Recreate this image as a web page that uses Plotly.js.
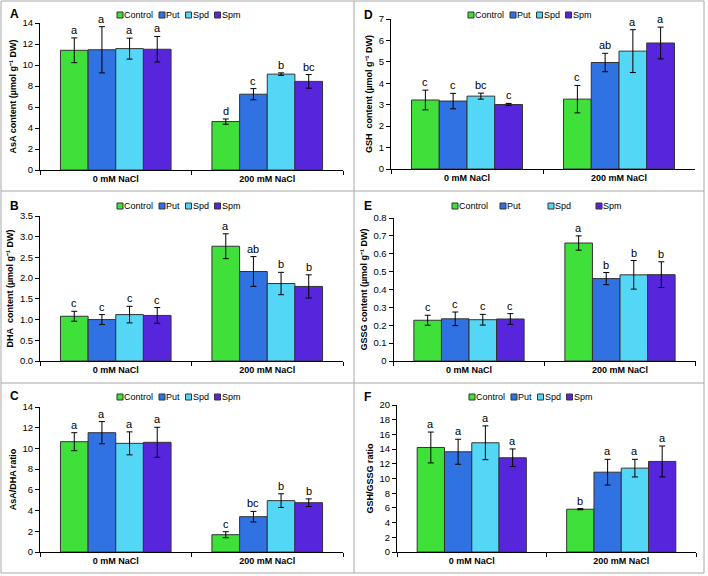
<!DOCTYPE html>
<html><head><meta charset="utf-8">
<script src="https://cdn.plot.ly/plotly-3.0.1.min.js"></script>
<style>body{margin:0;background:#fff}#chart{width:708px;height:576px}</style>
</head><body><div id="chart"></div>
<script>
// ---------- DATA ----------
const categories = ['0 mM NaCl', '200 mM NaCl'];
const treatments = ['Control', 'Put', 'Spd', 'Spm'];
const colors = ['#3fe03a', '#3072e2', '#54d6f7', '#5726dc'];

// rows = treatments (Control, Put, Spd, Spm); columns = categories (0, 200 mM NaCl)
const asaMean = [[11.40, 4.61], [11.45, 7.22], [11.56, 9.13], [11.50, 8.44]];
const asaErr = [[1.18, 0.25], [2.2, 0.53], [1.0, 0.12], [1.22, 0.65]];
const asaLetters = [['a', 'd'], ['a', 'c'], ['a', 'b'], ['a', 'bc']];

const gshMean = [[3.22, 3.26], [3.17, 4.97], [3.40, 5.50], [3.01, 5.88]];
const gshErr = [[0.46, 0.64], [0.36, 0.43], [0.14, 1.0], [0.05, 0.74]];
const gshLetters = [['c', 'c'], ['c', 'ab'], ['bc', 'a'], ['c', 'a']];

const dhaMean = [[1.08, 2.77], [1.00, 2.16], [1.12, 1.87], [1.10, 1.80]];
const dhaErr = [[0.12, 0.30], [0.12, 0.36], [0.20, 0.27], [0.19, 0.28]];
const dhaLetters = [['c', 'a'], ['c', 'ab'], ['c', 'b'], ['c', 'b']];

const gssgMean = [[0.228, 0.660], [0.236, 0.461], [0.231, 0.482], [0.235, 0.483]];
const gssgErr = [[0.028, 0.040], [0.038, 0.034], [0.030, 0.080], [0.030, 0.072]];
const gssgLetters = [['c', 'a'], ['c', 'b'], ['c', 'b'], ['c', 'b']];

const asaDhaMean = [[10.65, 1.67], [11.52, 3.41], [10.49, 4.96], [10.59, 4.76]];
const asaDhaErr = [[0.87, 0.29], [1.07, 0.51], [1.11, 0.66], [1.45, 0.37]];
const asaDhaLetters = [['a', 'c'], ['a', 'bc'], ['a', 'b'], ['a', 'b']];

const gshGssgMean = [[14.22, 5.82], [13.64, 10.86], [14.86, 11.41], [12.82, 12.32]];
const gshGssgErr = [[2.1, 0.08], [1.7, 1.75], [2.3, 1.2], [1.2, 2.1]];
const gshGssgLetters = [['a', 'b'], ['a', 'a'], ['a', 'a'], ['a', 'a']];

// ---------- LAYOUT ----------
const W = 708, H = 576;
const FONT = '"Liberation Sans", Arial, sans-serif';
const BARGAP = 0.27;

const panels = [
  {mean: asaMean, err: asaErr, letters: asaLetters, title: 'AsA content (µmol g⁻¹ DW)',
   range: [0, 14], dtick: 2, fmt: '', px: [40, 343], py: [23, 170], label: 'A', lab: [8, 14], leg: [117, 15, 0]},
  {mean: gshMean, err: gshErr, letters: gshLetters, title: 'GSH\u00a0 content (µmol g⁻¹ DW)',
   range: [0, 7], dtick: 1, fmt: '', px: [391, 695], py: [19, 169], label: 'D', lab: [362, 15], leg: [468, 15, 0]},
  {mean: dhaMean, err: dhaErr, letters: dhaLetters, title: 'DHA\u00a0 content (µmol g⁻¹ DW)',
   range: [0, 3.5], dtick: 0.5, fmt: '.1f', px: [40, 343], py: [216, 361], label: 'B', lab: [8, 206], leg: [117, 206, 0]},
  {mean: gssgMean, err: gssgErr, letters: gssgLetters, title: 'GSSG content (µmol g⁻¹ DW)',
   range: [0, 0.8], dtick: 0.1, fmt: '', px: [393.5, 695.5], py: [218, 361], label: 'E', lab: [362, 206], leg: [452, 206, 48]},
  {mean: asaDhaMean, err: asaDhaErr, letters: asaDhaLetters, title: 'AsA/DHA ratio',
   range: [0, 14], dtick: 2, fmt: '', px: [40, 343], py: [407, 552], label: 'C', lab: [8, 396], leg: [117, 397, 0]},
  {mean: gshGssgMean, err: gshGssgErr, letters: gshGssgLetters, title: 'GSH/GSSG ratio',
   range: [0, 20], dtick: 2, fmt: '', px: [397, 696], py: [405, 552], label: 'F', lab: [362, 397], leg: [469, 397, 0]}
];

const canvas = document.createElement('canvas');
const ctx = canvas.getContext('2d');
ctx.font = '9px "Liberation Sans"';

const traces = [];
const annotations = [];
const shapes = [];
const layout = {
  width: W, height: H,
  margin: {l: 0, r: 0, t: 0, b: 0},
  paper_bgcolor: '#fff', plot_bgcolor: 'rgba(0,0,0,0)',
  barmode: 'group', bargap: BARGAP, bargroupgap: 0,
  showlegend: false,
  font: {family: FONT, size: 10, color: '#000'}
};

panels.forEach((p, k) => {
  const n = k === 0 ? '' : String(k + 1);
  const xa = 'x' + n, ya = 'y' + n;
  layout['xaxis' + n] = {
    domain: [p.px[0] / W, p.px[1] / W], anchor: ya, type: 'category', range: [-0.5, 1.5],
    showline: true, linecolor: '#000', linewidth: 1, ticks: 'outside', tickson: 'boundaries',
    ticklen: 4, tickcolor: '#000', showgrid: false, zeroline: false, fixedrange: true,
    tickfont: {family: FONT, size: 9, weight: 'bold', color: '#000'}
  };
  layout['yaxis' + n] = {
    domain: [1 - p.py[1] / H, 1 - p.py[0] / H], anchor: xa, range: p.range, dtick: p.dtick,
    tickformat: p.fmt, showline: true, linecolor: '#000', linewidth: 1, ticks: 'outside', ticklen: 4,
    tickcolor: '#000', showgrid: false, zeroline: false, fixedrange: true,
    tickfont: {family: FONT, size: 9.5, color: '#000'},
    title: {text: p.title, font: {family: FONT, size: 9, weight: 'bold', color: '#000'}, standoff: 4}
  };
  treatments.forEach((t, i) => {
    traces.push({
      type: 'bar', name: t, x: categories, y: p.mean[i], xaxis: xa, yaxis: ya,
      marker: {color: colors[i], line: {color: '#333', width: 1}},
      error_y: {type: 'data', array: p.err[i], visible: true, color: '#000', thickness: 1, width: 3},
      showlegend: false, hoverinfo: 'y'
    });
    const off = (i - 1.5) * (1 - BARGAP) / 4;
    categories.forEach((c, j) => {
      annotations.push({
        xref: xa, yref: ya, x: j + off, y: p.mean[i][j] + p.err[i][j],
        text: p.letters[i][j], showarrow: false, xanchor: 'center', yanchor: 'bottom', yshift: 0,
        font: {family: FONT, size: 11, color: '#000'}
      });
    });
  });
  // panel label
  annotations.push({
    xref: 'paper', yref: 'paper', x: p.lab[0] / W, y: 1 - p.lab[1] / H, xanchor: 'left', yanchor: 'middle',
    text: '<b>' + p.label + '</b>', showarrow: false, font: {family: FONT, size: 12, color: '#000'}
  });
  // legend (swatch + label)
  let lx = p.leg[0];
  const ly = p.leg[1];
  treatments.forEach((t, i) => {
    const sx = p.leg[2] ? p.leg[0] + i * p.leg[2] : lx;
    shapes.push({type: 'rect', xref: 'paper', yref: 'paper', x0: sx / W, x1: (sx + 6) / W,
      y0: 1 - (ly + 3) / H, y1: 1 - (ly - 3) / H, fillcolor: colors[i], line: {color: '#333', width: 1}});
    annotations.push({xref: 'paper', yref: 'paper', x: (sx + 5) / W, y: 1 - ly / H, xanchor: 'left', yanchor: 'middle',
      text: t, showarrow: false, font: {family: FONT, size: 9, color: '#000'}});
    lx = sx + 6 + ctx.measureText(t).width + 7;
  });
});

// panel borders
const bc = '#a8a8a8';
shapes.push({type: 'rect', xref: 'paper', yref: 'paper', x0: 1 / W, x1: 704 / W, y0: 1 - 573 / H, y1: 1 - 1 / H, line: {color: bc, width: 1}});
shapes.push({type: 'line', xref: 'paper', yref: 'paper', x0: 354 / W, x1: 354 / W, y0: 1 - 573 / H, y1: 1 - 1 / H, line: {color: bc, width: 1}});
[191, 383].forEach(yy => shapes.push({type: 'line', xref: 'paper', yref: 'paper', x0: 1 / W, x1: 704 / W,
  y0: 1 - yy / H, y1: 1 - yy / H, line: {color: bc, width: 1}}));

layout.annotations = annotations;
layout.shapes = shapes;
Plotly.newPlot('chart', traces, layout, {displayModeBar: false, staticPlot: true});
</script>
</body></html>
